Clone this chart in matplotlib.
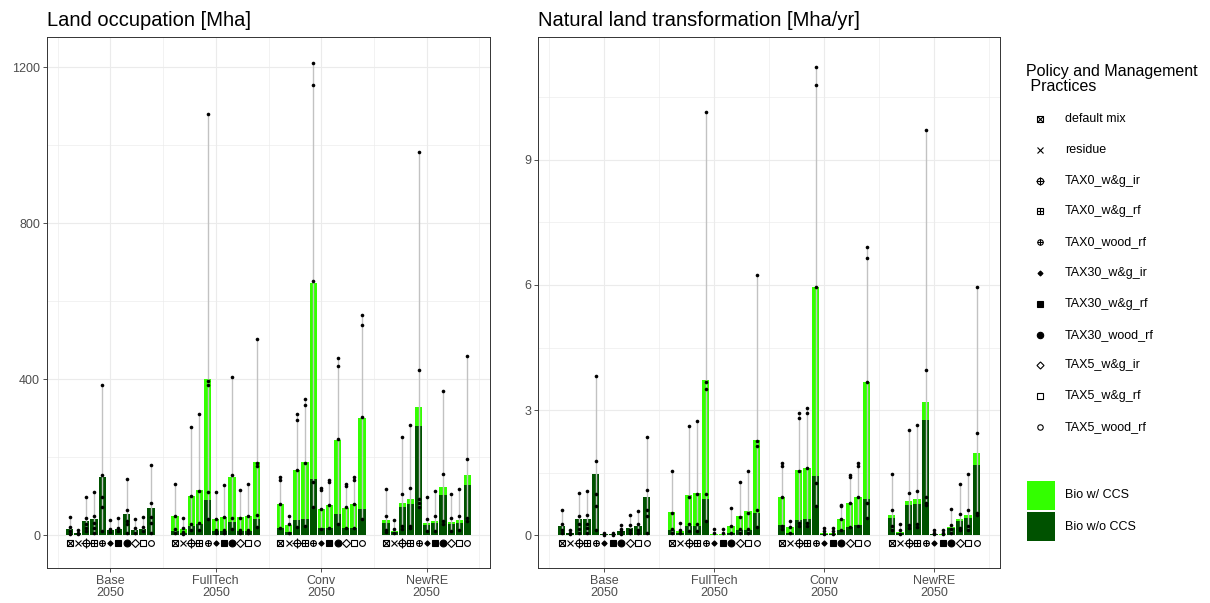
import matplotlib
matplotlib.use("Agg")
import matplotlib.pyplot as plt
from matplotlib.patches import Rectangle
import numpy as np

plt.rcParams['font.family'] = ['Liberation Sans', 'DejaVu Sans']

# ---------------- data ----------------
scenarios = ["Base", "FullTech", "Conv", "NewRE"]
scenario_labels = ["Base\n2050", "FullTech\n2050", "Conv\n2050", "NewRE\n2050"]
practices = ["default mix", "residue", "TAX0_w&g_ir", "TAX0_w&g_rf", "TAX0_wood_rf",
             "TAX30_w&g_ir", "TAX30_w&g_rf", "TAX30_wood_rf", "TAX5_w&g_ir",
             "TAX5_w&g_rf", "TAX5_wood_rf"]

# Land occupation [Mha]
occ_noccs = {
    "Base":     [16, 6, 36, 41, 149, 13, 15, 54, 14, 15, 68],
    "FullTech": [10, 6, 23, 27, 90, 11, 11, 33, 11, 11, 41],
    "Conv":     [19, 8, 38, 41, 144, 17, 19, 53, 17, 19, 66],
    "NewRE":    [32, 7, 71, 79, 280, 26, 31, 103, 28, 32, 129],
}
occ_ccs = {
    "Base":     [0, 0, 0, 0, 0, 0, 0, 0, 0, 0, 0],
    "FullTech": [39, 10, 78, 88, 310, 30, 36, 117, 34, 39, 145],
    "Conv":     [60, 18, 128, 146, 502, 50, 57, 190, 52, 60, 235],
    "NewRE":    [7, 4, 12, 14, 48, 4, 5, 19, 5, 7, 24],
}
occ_points = {
    "Base": [[47, 20, 11, 2], [14, 6, 2], [97, 44, 27, 17, 9], [110, 50, 30, 17, 5],
             [385, 155, 98, 71, 11], [38, 15, 7], [44, 17, 9], [144, 64, 37, 28, 5],
             [40, 18, 5], [46, 20, 11], [179, 81, 46, 32, 5]],
    "FullTech": [[131, 48, 16, 6], [43, 18, 8, 3], [276, 99, 29, 12], [311, 114, 32, 13],
                 [1079, 394, 384, 109, 40], [109, 40, 13, 4], [127, 45, 13, 6],
                 [404, 153, 43, 16], [116, 44, 14, 5], [131, 48, 14, 5],
                 [503, 184, 178, 51, 20]],
    "Conv": [[148, 142, 80, 19], [48, 29, 6], [310, 295, 167, 21], [348, 334, 184, 23],
             [1210, 1155, 652, 135, 73], [121, 116, 66, 16], [140, 135, 76, 18],
             [454, 433, 245, 28], [131, 125, 71, 17], [148, 142, 80, 19],
             [564, 539, 303, 41]],
    "NewRE": [[119, 50, 13, 7], [38, 15, 4], [252, 106, 22, 16], [283, 120, 24, 17],
              [982, 422, 92, 82, 72], [97, 41, 9], [114, 48, 9], [369, 157, 36, 28],
              [106, 43, 9], [119, 50, 13], [459, 194, 43, 36]],
}

# Natural land transformation [Mha/yr]
nlt_noccs = {
    "Base":     [0.22, 0.04, 0.38, 0.39, 1.47, 0.02, 0.02, 0.09, 0.18, 0.22, 0.91],
    "FullTech": [0.12, 0.04, 0.22, 0.22, 0.86, 0.01, 0.01, 0.04, 0.12, 0.13, 0.52],
    "Conv":     [0.23, 0.06, 0.36, 0.39, 1.42, 0.02, 0.02, 0.11, 0.19, 0.23, 0.87],
    "NewRE":    [0.42, 0.05, 0.71, 0.74, 2.77, 0.02, 0.01, 0.18, 0.34, 0.42, 1.69],
}
nlt_ccs = {
    "Base":     [0, 0, 0, 0, 0, 0, 0, 0, 0, 0, 0],
    "FullTech": [0.43, 0.06, 0.73, 0.78, 2.86, 0.01, 0.01, 0.18, 0.34, 0.44, 1.77],
    "Conv":     [0.68, 0.13, 1.19, 1.23, 4.54, 0.04, 0.04, 0.28, 0.59, 0.68, 2.80],
    "NewRE":    [0.06, 0.03, 0.11, 0.12, 0.43, 0.01, 0.01, 0.01, 0.04, 0.06, 0.28],
}
nlt_points = {
    "Base": [[0.59, 0.27, 0.13, 0.05], [0.11, 0.05, 0.02], [1.0, 0.46, 0.27, 0.15, 0.05],
             [1.05, 0.47, 0.27, 0.16, 0.05], [3.82, 1.77, 0.98, 0.70, 0.13], [0.04, 0.01],
             [0.04, 0.01], [0.24, 0.15, 0.09, 0.03], [0.49, 0.23, 0.13, 0.05],
             [0.58, 0.26, 0.13, 0.05], [2.36, 1.09, 0.61, 0.45, 0.06]],
    "FullTech": [[1.54, 0.54, 0.14, 0.06], [0.28, 0.12, 0.04], [2.62, 0.92, 0.26, 0.10],
                 [2.74, 0.98, 0.26, 0.10], [10.15, 3.68, 3.51, 0.98, 0.34], [0.14, 0.04],
                 [0.14, 0.04], [0.64, 0.22, 0.06], [1.28, 0.44, 0.14, 0.06],
                 [1.54, 0.54, 0.14, 0.06], [6.24, 2.25, 2.14, 0.60, 0.20]],
    "Conv": [[1.74, 1.66, 0.91, 0.22, 0.15], [0.34, 0.20, 0.06], [2.94, 2.80, 1.54, 0.30, 0.22],
             [3.06, 2.92, 1.60, 0.30, 0.22], [11.23, 10.79, 5.96, 1.26, 0.70],
             [0.18, 0.10, 0.03], [0.18, 0.10, 0.03], [0.72, 0.70, 0.39, 0.11],
             [1.44, 1.39, 0.76, 0.19], [1.74, 1.66, 0.91, 0.22], [6.92, 6.64, 3.67, 0.78, 0.42]],
    "NewRE": [[1.47, 0.61, 0.21, 0.11], [0.26, 0.13, 0.02], [2.52, 1.02, 0.23, 0.18],
              [2.63, 1.06, 0.26, 0.20], [9.72, 3.96, 0.91, 0.77, 0.71], [0.13, 0.06, 0.02],
              [0.13, 0.06, 0.02], [0.63, 0.24, 0.14, 0.05], [1.23, 0.50, 0.18, 0.11],
              [1.47, 0.61, 0.21, 0.11], [5.95, 2.44, 0.53, 0.49]],
}

fill_labels = ["Bio w/ CCS", "Bio w/o CCS"]
col_ccs = "#33ff00"
col_noccs = "#005200"

# marker definitions (marker, filled, scale)
SHAPES = {
    "default mix":   [("s", False, 1.0), ("x", False, 1.0)],
    "residue":       [("x", False, 1.0)],
    "TAX0_w&g_ir":   [("o", False, 1.0), ("+", False, 1.35)],
    "TAX0_w&g_rf":   [("s", False, 1.0), ("+", False, 1.0)],
    "TAX0_wood_rf":  [("o", False, 0.85), ("+", False, 0.85)],
    "TAX30_w&g_ir":  [("D", True, 0.55)],
    "TAX30_w&g_rf":  [("s", True, 0.9)],
    "TAX30_wood_rf": [("o", True, 1.0)],
    "TAX5_w&g_ir":   [("D", False, 0.78)],
    "TAX5_w&g_rf":   [("s", False, 1.0)],
    "TAX5_wood_rf":  [("o", False, 0.85)],
}


def draw_shape(ax, x, y, key, size, **kw):
    for m, filled, sc in SHAPES[key]:
        ax.plot(x, y, ls="none", marker=m, ms=size * sc,
                mfc="black" if filled else "none", mec="black", mew=0.8,
                clip_on=False, **kw)


W, H = 1210, 603
fig = plt.figure(figsize=(W / 100, H / 100), dpi=100)
ax1 = fig.add_axes([47 / W, (H - 568) / H, 443 / W, 531 / H])
ax2 = fig.add_axes([538 / W, (H - 568) / H, 462 / W, 531 / H])

dodge = 0.85
slot = dodge / len(practices)
barw = slot * 0.88
grid_col = "#ebebeb"


def draw_panel(ax, noccs, ccs, points, ylim, yticks, yminor, marker_y, title):
    ax.set_xlim(0.4, 4.6)
    ax.set_ylim(*ylim)
    for g in [1, 2, 3, 4]:
        ax.axvline(g, color=grid_col, lw=0.8, zorder=0)
    for g in [0.5, 1.5, 2.5, 3.5, 4.5]:
        ax.axvline(g, color=grid_col, lw=0.45, zorder=0)
    for t in yticks:
        ax.axhline(t, color=grid_col, lw=0.8, zorder=0)
    for t in yminor:
        ax.axhline(t, color=grid_col, lw=0.45, zorder=0)
    for gi, sc in enumerate(scenarios):
        xs = gi + 1 + (np.arange(len(practices)) - (len(practices) - 1) / 2) * slot
        d = np.array(noccs[sc], float)
        c = np.array(ccs[sc], float)
        ax.bar(xs, d, width=barw, color=col_noccs, lw=0, zorder=2)
        ax.bar(xs, c, bottom=d, width=barw, color=col_ccs, lw=0, zorder=2)
        for i, pts in enumerate(points[sc]):
            ax.plot([xs[i], xs[i]], [min(pts), max(pts)], color="#c2c2c2", lw=1.0,
                    zorder=3, solid_capstyle="butt")
            ax.plot([xs[i]] * len(pts), pts, ls="none", marker="o", ms=2.6,
                    color="black", mew=0, zorder=4)
            draw_shape(ax, [xs[i]], [marker_y], practices[i], 4.9, zorder=5)
    ax.set_xticks([1, 2, 3, 4])
    ax.set_xticklabels(scenario_labels, fontsize=9, color="#4d4d4d", linespacing=1.0)
    ax.set_yticks(yticks)
    ax.set_yticklabels([f"{t:g}" for t in yticks], fontsize=9, color="#4d4d4d")
    ax.tick_params(length=3, width=0.6, color="#333333", pad=2)
    for s in ax.spines.values():
        s.set_color("#333333")
        s.set_linewidth(0.7)
    ax.set_title(title, loc="left", fontsize=14.5, pad=8)


draw_panel(ax1, occ_noccs, occ_ccs, occ_points, (-84.6, 1277), [0, 400, 800, 1200],
           [200, 600, 1000], -21, "Land occupation [Mha]")
draw_panel(ax2, nlt_noccs, nlt_ccs, nlt_points, (-0.79, 11.95), [0, 3, 6, 9],
           [1.5, 4.5, 7.5, 10.5], -0.19, "Natural land transformation [Mha/yr]")

# ---------------- legend ----------------
lax = fig.add_axes([0, 0, 1, 1])
lax.set_xlim(0, W)
lax.set_ylim(H, 0)
lax.axis("off")
lax.text(1026, 79, "Policy and Management\n Practices", fontsize=11.5, ha="left",
         va="center", linespacing=1.0)
row_y = np.linspace(119, 427, len(practices))
for yy, p in zip(row_y, practices):
    draw_shape(lax, [1040], [yy], p, 4.6)
    lax.text(1065, yy, p, fontsize=9, ha="left", va="center")
for k, (lab, col) in enumerate(zip(fill_labels, [col_ccs, col_noccs])):
    y0 = 481 + k * 31
    lax.add_patch(Rectangle((1027, y0), 28, 29, facecolor=col, edgecolor="none"))
    lax.text(1065, y0 + 14.5, lab, fontsize=9, ha="left", va="center")

fig.savefig("out.png", dpi=100)
